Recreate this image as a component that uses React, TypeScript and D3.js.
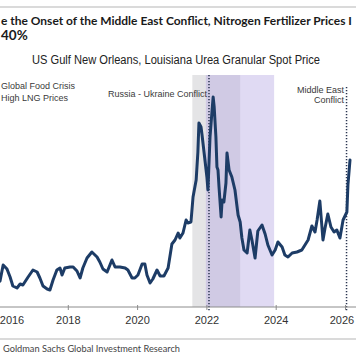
import React, { useLayoutEffect, useRef, useState } from "react";
import * as d3 from "d3";

// Urea granular spot price, US Gulf NOLA ($/short ton, estimated)
const years: number[] = [
  2015.97, 2016.03, 2016.12, 2016.23, 2016.32, 2016.4, 2016.52, 2016.61, 2016.69, 2016.84, 2016.98,
  2017.1, 2017.18, 2017.27, 2017.39, 2017.47, 2017.56, 2017.67, 2017.76, 2017.82, 2017.9,
  2018.05, 2018.14, 2018.25, 2018.34, 2018.42, 2018.54, 2018.68, 2018.83, 2018.91,
  2019.0, 2019.12, 2019.26, 2019.35, 2019.49, 2019.64, 2019.72, 2019.84, 2019.92,
  2020.01, 2020.13, 2020.21, 2020.27, 2020.36, 2020.44, 2020.56, 2020.65, 2020.76, 2020.88, 2020.99,
  2021.08, 2021.17, 2021.22, 2021.31, 2021.4, 2021.45, 2021.54, 2021.6, 2021.69, 2021.74, 2021.77,
  2021.83, 2021.86, 2021.92, 2022.0, 2022.03, 2022.09, 2022.15, 2022.18, 2022.21, 2022.26,
  2022.29, 2022.32, 2022.35, 2022.41, 2022.44, 2022.49, 2022.55, 2022.58, 2022.64, 2022.72,
  2022.81, 2022.9, 2022.96, 2023.01, 2023.07, 2023.16, 2023.24, 2023.3, 2023.39, 2023.47,
  2023.59, 2023.68, 2023.76, 2023.88, 2023.97, 2024.05, 2024.17, 2024.25, 2024.34, 2024.46,
  2024.6, 2024.74, 2024.83, 2024.92, 2025.03, 2025.12, 2025.18, 2025.26, 2025.35, 2025.41,
  2025.49, 2025.58, 2025.67, 2025.75, 2025.84, 2025.93, 2026.04, 2026.07, 2026.13,
];
const prices: number[] = [
  208, 216, 280, 264, 232, 196, 188, 204, 200, 232, 260,
  252, 228, 196, 184, 180, 220, 260, 268, 240, 268,
  272, 272, 256, 228, 268, 308, 332, 312, 292,
  264, 252, 300, 272, 272, 268, 260, 228, 228,
  240, 284, 284, 240, 208, 224, 260, 236, 236, 268, 364,
  380, 408, 388, 408, 460, 448, 452, 552, 620, 732, 848,
  832, 800, 728, 632, 580, 792, 900, 952, 912, 792,
  672, 660, 592, 472, 540, 532, 608, 728, 660, 632,
  580, 480, 452, 388, 340, 328, 420, 380, 308, 416,
  440, 404, 360, 320, 340, 372, 352, 320, 312, 328,
  332, 340, 360, 380, 436, 412, 460, 536, 380, 428,
  484, 432, 412, 420, 388, 460, 492, 600, 700,
];

const tickYears: number[] = [2016, 2018, 2020, 2022, 2024, 2026];

// shaded periods [start, end]
const foodCrisisBand: number[] = [2021.58, 2022.96];
const ukraineBand: number[] = [2021.97, 2023.94];

// event markers
const eventYears: number[] = [2022.06, 2026.03];

const titleLines: string[] = [
  "e the Onset of the Middle East Conflict, Nitrogen Fertilizer Prices I",
  "40%",
];
const subtitle = "US Gulf New Orleans, Louisiana Urea Granular Spot Price";
const sourceText = "Goldman Sachs Global Investment Research";

export default function App() {
  const W = 356;
  const H = 364;
  const axisY = 307;
  const x = d3.scaleLinear().domain([2016, 2026]).range([-1, 345.5]);
  const y = d3.scaleLinear().domain([100, 1100]).range([310, 60]);

  const titleRef = useRef<SVGTextElement>(null);
  const [titleSize, setTitleSize] = useState(13.5);
  useLayoutEffect(() => {
    const el = titleRef.current;
    if (!el) return;
    const w = el.getComputedTextLength();
    if (w > 352) setTitleSize((s) => Math.floor((s * 351 / w) * 100) / 100);
  }, [titleSize]);

  const data = years.map((t, i) => ({ t, v: prices[i] }));
  const line = d3
    .line<{ t: number; v: number }>()
    .x((d) => x(d.t))
    .y((d) => y(d.v))
    .curve(d3.curveLinear);

  const sans = "'Liberation Sans', Arial, sans-serif";
  const cal = "Lato, 'Open Sans', sans-serif";
  const navy = "#1d3c66";
  const annot = "#3a3a3a";

  return (
    <svg
      width={W}
      height={H}
      viewBox={`0 0 ${W} ${H}`}
      style={{ position: "absolute", left: 0, top: 0, background: "#fff" }}
    >
      <rect x={0} y={0} width={W} height={H} fill="#fff" />
      <line x1={0} x2={W} y1={7} y2={7} stroke="#b5b5b5" strokeWidth={1} />
      <text ref={titleRef} x={1} y={25} fontFamily={cal} fontWeight={700} fontSize={titleSize}
        fill="#1a1a1a">{titleLines[0]}</text>
      <text x={1} y={40} fontFamily={cal} fontWeight={700} fontSize={13.5} fill="#1a1a1a">{titleLines[1]}</text>

      <text x={176} y={64} textAnchor="middle" fontFamily={sans} fontSize={12} fill="#222"
        textLength={288} lengthAdjust="spacingAndGlyphs">{subtitle}</text>

      {/* shaded periods */}
      <rect x={x(foodCrisisBand[0])} y={75} width={x(foodCrisisBand[1]) - x(foodCrisisBand[0])}
        height={axisY - 75} fill="#e4e4e6" />
      <rect x={x(ukraineBand[0])} y={75} width={x(ukraineBand[1]) - x(ukraineBand[0])}
        height={axisY - 75} fill="rgb(177,162,225)" fillOpacity={0.4} />

      {/* event lines */}
      <line x1={x(eventYears[0])} x2={x(eventYears[0])} y1={75} y2={312}
        stroke="#2a3550" strokeWidth={1.5} strokeDasharray="1.3,1.7" />
      <line x1={x(eventYears[1])} x2={x(eventYears[1])} y1={87} y2={312}
        stroke="#2a3550" strokeWidth={1.5} strokeDasharray="1.3,1.7" />

      {/* annotations */}
      <text x={1} y={89} fontFamily={sans} fontSize={9} fill={annot}>Global Food Crisis</text>
      <text x={1} y={101} fontFamily={sans} fontSize={9} fill={annot}>High LNG Prices</text>
      <text x={207} y={97} textAnchor="end" fontFamily={sans} fontSize={9} fill={annot}>Russia - Ukraine Conflict</text>
      <text x={344} y={93} textAnchor="end" fontFamily={sans} fontSize={9} fill={annot}>Middle East</text>
      <text x={344} y={102.5} textAnchor="end" fontFamily={sans} fontSize={9} fill={annot}>Conflict</text>

      {/* price line */}
      <path d={line(data) || ""} fill="none" stroke={navy} strokeWidth={3}
        strokeLinejoin="round" strokeLinecap="round" />

      {/* x axis */}
      <line x1={0} x2={W} y1={axisY} y2={axisY} stroke="#8c8c8c" strokeWidth={1} />
      {tickYears.map((t) => (
        <g key={t}>
          <line x1={x(t)} x2={x(t)} y1={axisY - 2} y2={axisY + 3} stroke="#8c8c8c" strokeWidth={1} />
          <text x={Math.min(Math.max(x(t), 12), W - 14)} y={324} textAnchor="middle" fontFamily={sans} fontSize={11} fill="#333">
            {String(t)}
          </text>
        </g>
      ))}

      <line x1={0} x2={W} y1={339} y2={339} stroke="#b5b5b5" strokeWidth={1} />
      <text x={3} y={352} fontFamily={cal} fontSize={10} fill="#444"
        textLength={177} lengthAdjust="spacingAndGlyphs">{sourceText}</text>
    </svg>
  );
}
